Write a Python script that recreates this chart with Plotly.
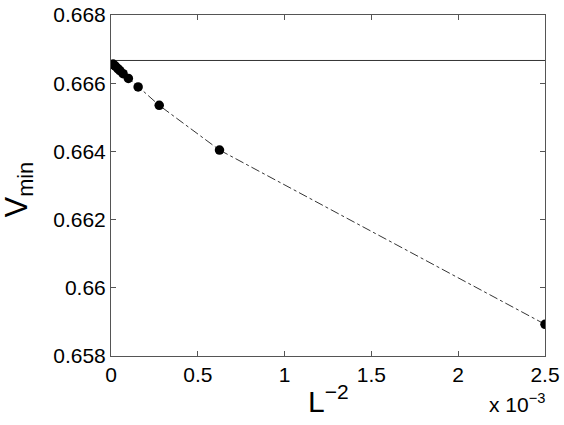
import plotly.graph_objects as go

# Data
L_values = [20, 40, 60, 80, 100, 120, 140, 160, 200, 240, 300]
x_vals = [1.0 / (L * L) for L in L_values]  # L^-2
v_min = [0.65893, 0.66404, 0.66535, 0.66589, 0.66614, 0.66628, 0.66637,
         0.66643, 0.66650, 0.66653, 0.66656]
v_ref = 2.0 / 3.0

x_tickvals = [0, 0.0005, 0.001, 0.0015, 0.002, 0.0025]
x_ticktext = ["0", "0.5", "1", "1.5", "2", "2.5"]
y_tickvals = [0.658, 0.660, 0.662, 0.664, 0.666, 0.668]
y_ticktext = ["0.658", "0.66", "0.662", "0.664", "0.666", "0.668"]

FONT = "Liberation Sans, Arial, Helvetica, sans-serif"

fig = go.Figure()
fig.add_trace(go.Scatter(
    x=[0, 0.0025], y=[v_ref, v_ref], mode="lines",
    line=dict(color="#333333", width=1), showlegend=False, hoverinfo="skip"))
fig.add_trace(go.Scatter(
    x=x_vals, y=v_min, mode="lines+markers",
    line=dict(color="black", width=0.8, dash="dashdot"),
    marker=dict(color="black", size=9.5, line=dict(width=0)),
    showlegend=False))

axis_common = dict(
    showline=True, linecolor="#555555", linewidth=1, mirror="ticks",
    ticks="inside", ticklen=5, tickcolor="#555555", showgrid=False,
    zeroline=False, automargin=False,
    tickfont=dict(family=FONT, size=21, color="black"))

fig.update_xaxes(range=[0, 0.0025], tickvals=x_tickvals, ticktext=x_ticktext, **axis_common)
fig.update_yaxes(range=[0.658, 0.668], tickvals=y_tickvals, ticktext=y_ticktext, **axis_common)

# Axis titles as annotations for precise placement
fig.add_annotation(x=0.5, y=0, xref="paper", yref="paper", xanchor="center", yanchor="top",
                   yshift=-22, showarrow=False,
                   text="L<sup>−2</sup>", font=dict(family=FONT, size=30, color="black"))
fig.add_annotation(x=0, y=0.5, xref="paper", yref="paper", xanchor="center", yanchor="middle",
                   xshift=-93, yshift=-4, textangle=-90, showarrow=False,
                   text="V<sub>min</sub>", font=dict(family=FONT, size=31, color="black"))
fig.add_annotation(x=1, y=0, xref="paper", yref="paper", xanchor="right", yanchor="top",
                   yshift=-32, xshift=2, showarrow=False,
                   text="x 10<sup>−3</sup>", font=dict(family=FONT, size=21, color="black"))

fig.update_layout(width=564, height=425, plot_bgcolor="white", paper_bgcolor="white",
                  margin=dict(l=111, r=19, t=15, b=69))

fig.write_html("out.html", config={"displayModeBar": False},
               post_script="document.body.style.margin='0';")
